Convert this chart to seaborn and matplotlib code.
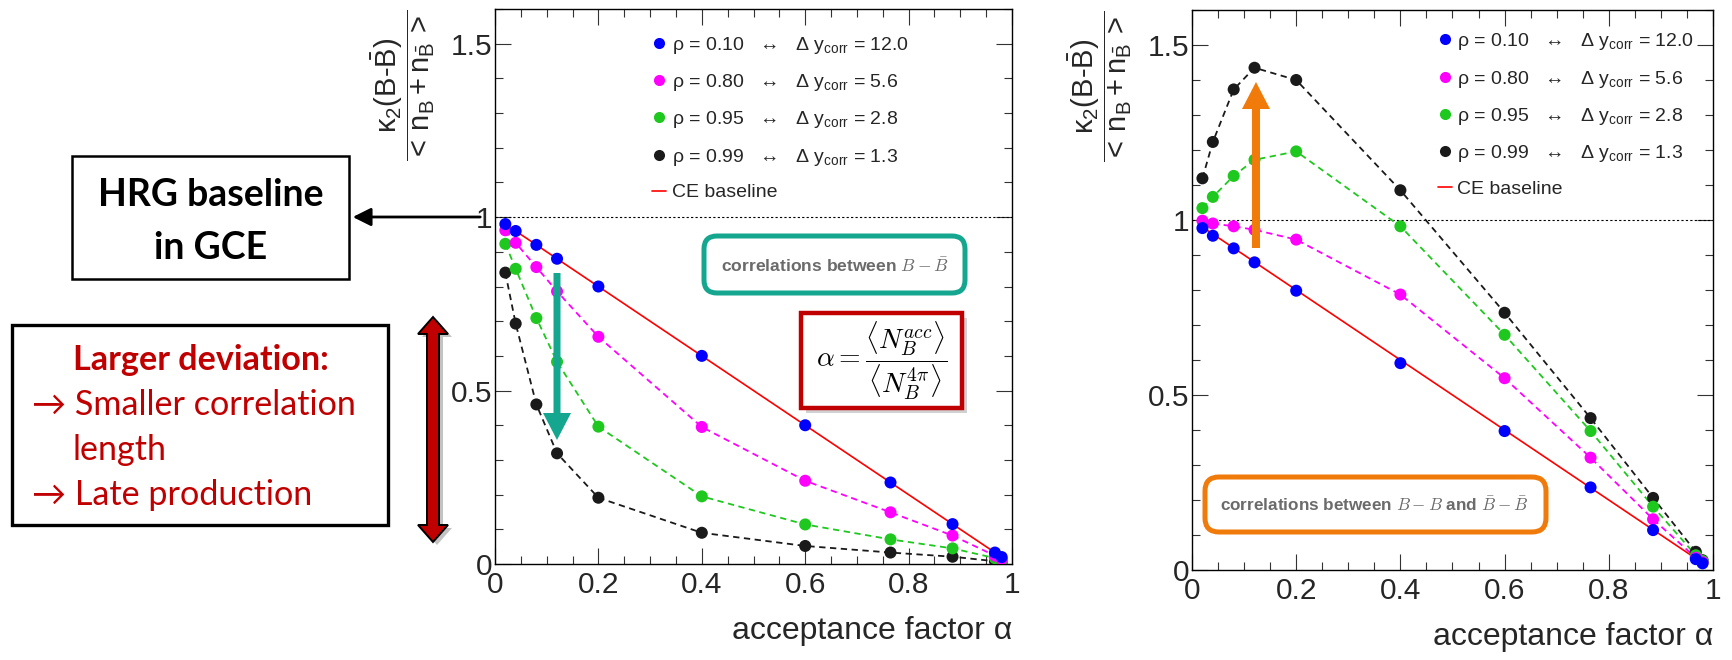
import numpy as np
import pandas as pd
import matplotlib
matplotlib.use("Agg")
import matplotlib.pyplot as plt
import seaborn as sns
from matplotlib.lines import Line2D
from matplotlib.patches import Rectangle, FancyBboxPatch, Polygon
from matplotlib.ticker import MultipleLocator

# ---------------- data ----------------
alpha = [0.02, 0.04, 0.08, 0.12, 0.2, 0.4, 0.6, 0.765, 0.885, 0.967, 0.98]

# left panel: correlations between B - Bbar
left_rho010 = [0.980, 0.960, 0.920, 0.880, 0.800, 0.600, 0.400, 0.235, 0.115, 0.033, 0.020]
left_rho080 = [0.962, 0.926, 0.856, 0.786, 0.655, 0.395, 0.240, 0.149, 0.082, 0.024, 0.014]
left_rho095 = [0.923, 0.851, 0.709, 0.583, 0.396, 0.195, 0.114, 0.071, 0.045, 0.017, 0.010]
left_rho099 = [0.840, 0.693, 0.460, 0.319, 0.191, 0.090, 0.052, 0.033, 0.021, 0.008, 0.005]

# right panel: correlations between B - B and Bbar - Bbar
right_rho010 = [0.977, 0.955, 0.919, 0.879, 0.798, 0.591, 0.397, 0.236, 0.114, 0.031, 0.019]
right_rho080 = [0.998, 0.990, 0.982, 0.972, 0.944, 0.787, 0.548, 0.321, 0.145, 0.035, 0.022]
right_rho095 = [1.034, 1.066, 1.126, 1.172, 1.196, 0.982, 0.672, 0.397, 0.181, 0.042, 0.026]
right_rho099 = [1.119, 1.223, 1.373, 1.435, 1.400, 1.085, 0.735, 0.434, 0.206, 0.052, 0.028]

# CE baseline end points
ce_alpha = [0.02, 0.98]
ce_value = [0.98, 0.02]

series_names = ["rho010", "rho080", "rho095", "rho099"]
series_labels = [
    r"ρ = 0.10   ↔   Δ y$_{\rm corr}$ = 12.0",
    r"ρ = 0.80   ↔   Δ y$_{\rm corr}$ = 5.6",
    r"ρ = 0.95   ↔   Δ y$_{\rm corr}$ = 2.8",
    r"ρ = 0.99   ↔   Δ y$_{\rm corr}$ = 1.3",
]
ce_label = "CE baseline"
series_colors = ["#0000ff", "#ff00ff", "#1ec81e", "#1a1a1a"]

x_ticks = [0, 0.2, 0.4, 0.6, 0.8, 1.0]
x_ticklabels = ["0", "0.2", "0.4", "0.6", "0.8", "1"]
y_ticks = [0, 0.5, 1.0, 1.5]
y_ticklabels = ["0", "0.5", "1", "1.5"]

xlabel = "acceptance factor α"
ylabel = r"$\dfrac{\mathrm{\kappa_2(B\text{-}\bar{B})}}{\mathrm{<\,n_B+n_{\bar{B}}\,>}}$"

# ---------------- style ----------------
sns.set_style("ticks")
plt.rcParams["font.family"] = ["Liberation Sans", "DejaVu Sans"]
plt.rcParams["mathtext.fontset"] = "custom"
plt.rcParams["mathtext.rm"] = "Liberation Sans"
plt.rcParams["mathtext.it"] = "Liberation Sans:italic"
plt.rcParams["mathtext.bf"] = "Liberation Sans:bold"

W, H = 1733, 660
fig = plt.figure(figsize=(W / 100, H / 100), dpi=100)
ax_l = fig.add_axes([495 / W, 1 - 564 / H, 517 / W, 555 / H])
ax_r = fig.add_axes([1192 / W, 1 - 570 / H, 521 / W, 560 / H])

palette = dict(zip(series_names, series_colors))


def draw_panel(ax, values, leg_anchor):
    n = len(alpha)
    df = pd.DataFrame({
        "alpha": alpha * len(values),
        "value": [v for vals in values for v in vals],
        "series": np.repeat(series_names, n),
    })
    dashed = df[df["series"] != "rho010"]
    sns.lineplot(data=dashed, x="alpha", y="value", hue="series", palette=palette,
                 estimator=None, sort=True, legend=False, ax=ax,
                 linestyle=(0, (3.5, 2.5)), linewidth=1.3, zorder=2)
    sns.lineplot(x=ce_alpha, y=ce_value, color="red", linewidth=1.2, ax=ax, zorder=2.5)
    sns.scatterplot(data=df.iloc[::-1], x="alpha", y="value", hue="series",
                    palette=palette, s=75, linewidth=0, legend=False, ax=ax, zorder=3)
    ax.axhline(1.0, color="black", linestyle=(0, (2, 2)), linewidth=0.8, zorder=1)

    ax.set_xlim(0, 1)
    ax.set_ylim(0, 1.6)
    ax.set_xticks(x_ticks, x_ticklabels)
    ax.set_yticks(y_ticks, y_ticklabels)
    ax.xaxis.set_minor_locator(MultipleLocator(0.05))
    ax.yaxis.set_minor_locator(MultipleLocator(0.1))
    ax.tick_params(which="both", direction="in", top=True, right=True,
                   width=0.8, color="#333333", labelsize=21.5)
    ax.tick_params(which="major", length=11.5)
    ax.tick_params(which="minor", length=5.8)
    ax.tick_params(axis="x", pad=5)
    ax.tick_params(axis="y", pad=2)
    for sp in ax.spines.values():
        sp.set_linewidth(1.0)
        sp.set_color("black")
    ax.set_xlabel(xlabel, loc="right", fontsize=23, labelpad=12)
    ax.set_ylabel(ylabel, loc="top", fontsize=21, labelpad=10)

    handles = [Line2D([], [], marker="o", linestyle="none", color=c, markersize=8,
                      markeredgewidth=0) for c in series_colors]
    handles.append(Line2D([], [], color="red", linewidth=1.2))
    ax.legend(handles, series_labels + [ce_label], loc="upper left",
              bbox_to_anchor=leg_anchor, frameon=False, fontsize=14,
              handlelength=0.7, handletextpad=0.3, labelspacing=0.84,
              borderpad=0, borderaxespad=0)


draw_panel(ax_l, [left_rho010, left_rho080, left_rho095, left_rho099], (0.304, 0.954))
draw_panel(ax_r, [right_rho010, right_rho080, right_rho095, right_rho099], (0.472, 0.962))

# ---------------- annotations (figure pixel coordinates) ----------------
T = fig.dpi_scale_trans


def P(x, y):
    return (x / 100.0, (H - y) / 100.0)


def rect(x0, y0, x1, y1, **kw):
    p = Rectangle(P(x0, y1), (x1 - x0) / 100.0, (y1 - y0) / 100.0, transform=T, **kw)
    fig.patches.append(p)


def rbox(x0, y0, x1, y1, r, **kw):
    p = FancyBboxPatch(P(x0, y1), (x1 - x0) / 100.0, (y1 - y0) / 100.0,
                       boxstyle=f"round,pad=0,rounding_size={r/100.0}", transform=T, **kw)
    fig.patches.append(p)


def poly(pts, **kw):
    p = Polygon([P(x, y) for x, y in pts], closed=True, transform=T, **kw)
    fig.patches.append(p)


def vtext(x, y, s, **kw):
    fig.text(x / W, 1 - y / H, s, **kw)


fam = ["Lato", "DejaVu Sans"]

# HRG baseline box
rect(72, 156, 349, 279, facecolor="white", edgecolor="black", linewidth=1.8)
vtext(211, 206, "HRG baseline", ha="center", va="baseline", fontsize=27,
      fontweight="bold", family=fam, color="black")
vtext(211, 259, "in GCE", ha="center", va="baseline", fontsize=27,
      fontweight="bold", family=fam, color="black")

# arrow from y=1 to HRG box
fig.patches.append(matplotlib.patches.FancyArrowPatch(
    P(483, 217), P(350, 217), transform=T, arrowstyle="-|>,head_length=0.5,head_width=0.25",
    mutation_scale=22, color="black", linewidth=2.0))

# Larger deviation box
rect(12, 325, 388, 525, facecolor="white", edgecolor="black", linewidth=2.4)
dr = "#c00000"
vtext(73, 370, "Larger deviation:", ha="left", va="baseline", fontsize=24.6,
      fontweight="bold", family=fam, color=dr)
vtext(32, 415, "→ Smaller correlation", ha="left", va="baseline", fontsize=24.6,
      family=fam, color=dr)
vtext(73, 460, "length", ha="left", va="baseline", fontsize=24.6, family=fam, color=dr)
vtext(32, 505, "→ Late production", ha="left", va="baseline", fontsize=24.6,
      family=fam, color=dr)

# red double arrow
cx, top, bot, sh, hh, hl = 433, 317, 542, 6, 15, 17
dbl = [(cx, top), (cx + hh, top + hl), (cx + sh, top + hl), (cx + sh, bot - hl),
       (cx + hh, bot - hl), (cx, bot), (cx - hh, bot - hl), (cx - sh, bot - hl),
       (cx - sh, top + hl), (cx - hh, top + hl)]
poly([(x + 4, y + 3) for x, y in dbl], facecolor="#888888", edgecolor="none", alpha=0.5)
poly(dbl, facecolor=dr, edgecolor="black", linewidth=1.4)

# teal box + arrow (left panel)
teal = "#14a68f"
rbox(704, 236, 965, 293, 13, facecolor="white", edgecolor=teal, linewidth=3.6)
vtext(835, 266, r"correlations between $B-\bar{B}$", ha="center", va="center",
      fontsize=12.6, fontweight="bold", color="#6b6b6b", math_fontfamily="cm")
cx, top, tip, sh, hh, hl = 557, 273, 440, 3.5, 14, 27
poly([(cx - sh, top), (cx + sh, top), (cx + sh, tip - hl), (cx + hh, tip - hl),
      (cx, tip), (cx - hh, tip - hl), (cx - sh, tip - hl)],
     facecolor=teal, edgecolor="none")

# alpha definition box
rect(806, 318, 967, 413, facecolor="#9a9a9a", edgecolor="none", alpha=0.45)
rect(801, 313, 962, 408, facecolor="white", edgecolor=dr, linewidth=3.2)
vtext(882, 361, r"$\alpha = \dfrac{\langle N_B^{acc}\rangle}{\langle N_B^{4\pi}\rangle}$",
      ha="center", va="center", fontsize=20, math_fontfamily="cm", color="black")

# orange box + arrow (right panel)
orange = "#f07a0a"
rbox(1205, 477, 1546, 532, 14, facecolor="white", edgecolor=orange, linewidth=3.6)
vtext(1374, 505, r"correlations between $B-B$ and $\bar{B}-\bar{B}$", ha="center",
      va="center", fontsize=12.3, fontweight="bold", color="#6b6b6b", math_fontfamily="cm")
cx, bot, tip, sh, hh, hl = 1256, 248, 82, 4, 14, 27
poly([(cx - sh, bot), (cx + sh, bot), (cx + sh, tip + hl), (cx + hh, tip + hl),
      (cx, tip), (cx - hh, tip + hl), (cx - sh, tip + hl)],
     facecolor=orange, edgecolor="none")

fig.savefig("out.png", dpi=100)
